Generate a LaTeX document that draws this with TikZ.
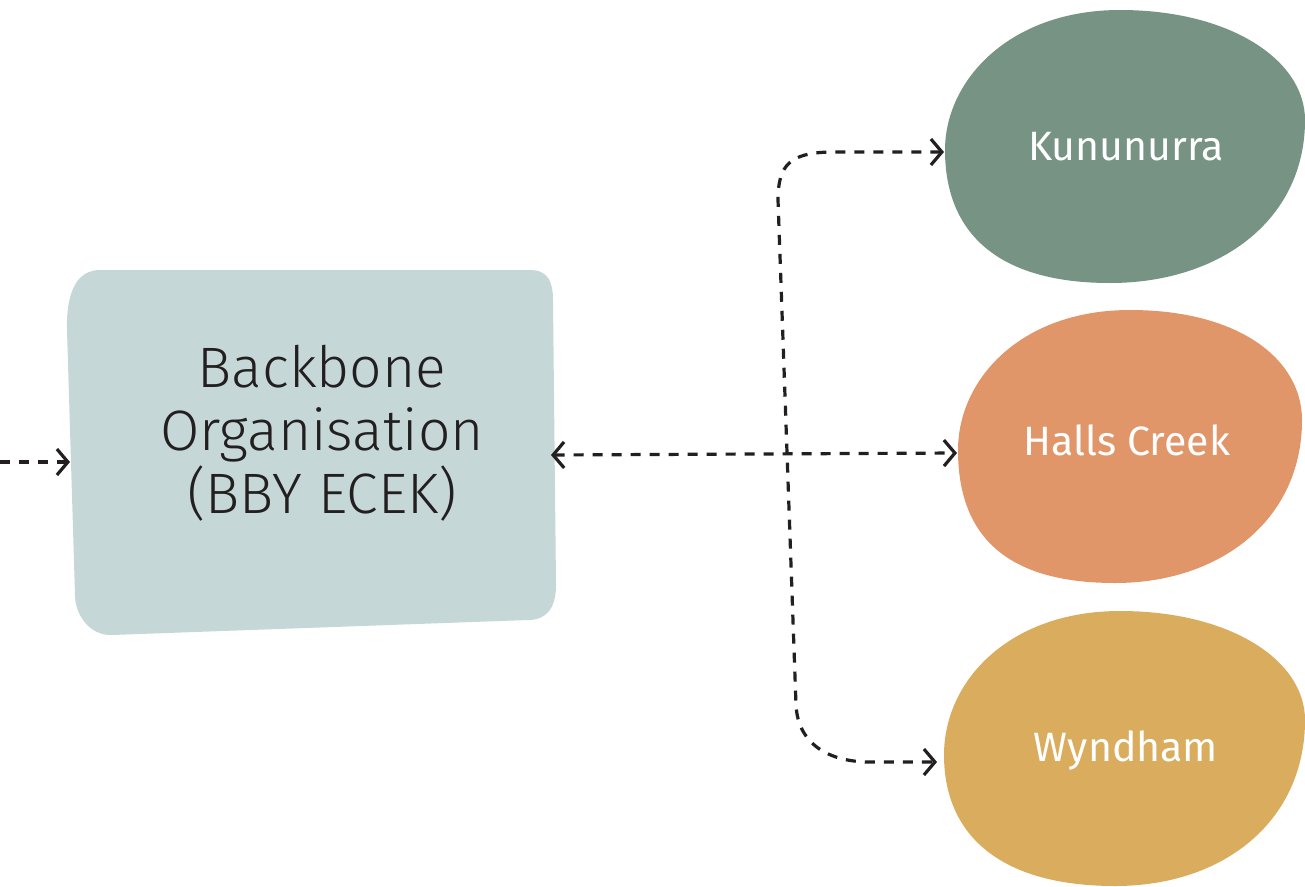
\documentclass[tikz,border=0pt]{standalone}
\usepackage{fontspec}
\setmainfont{Fira Sans Light}
\newfontfamily\blobfont{Fira Sans}
\usetikzlibrary{arrows.meta}
\definecolor{boxc}{HTML}{C5D8D7}
\definecolor{kunc}{HTML}{769384}
\definecolor{hallc}{HTML}{E09668}
\definecolor{wync}{HTML}{DAAD5E}
\definecolor{inkc}{HTML}{231F20}
\tikzset{
  barb/.tip={Straight Barb[length=11pt,width=26pt,line width=3.2pt]},
  link/.style={draw=inkc, line width=3.2pt, dash pattern=on 10pt off 9pt, line cap=butt},
  tip/.style={-barb},
  bitip/.style={barb-barb},
  boxtext/.style={text=inkc, font=\fontsize{57}{63}\selectfont, align=center},
  blobtext/.style={text=white, font=\blobfont\fontsize{41}{46}\selectfont}
}
\begin{document}
\begin{tikzpicture}[x=1pt,y=-1pt]
\useasboundingbox (0,0) rectangle (1305,886);
% backbone box
\fill[boxc] (100,270) -- (530,270) .. controls (548,270) and (553,282) .. (553,300)
  -- (556,585) .. controls (556,610) and (545,620) .. (528,620)
  -- (112,635) .. controls (90,636) and (75,615) .. (75,595)
  -- (67,330) .. controls (66,290) and (78,270) .. (100,270) -- cycle;
% blobs
\fill[kunc] (945,150) .. controls (945,80) and (1010,10) .. (1120,10)
  .. controls (1230,10) and (1305,60) .. (1305,120)
  .. controls (1305,220) and (1220,283) .. (1110,283)
  .. controls (1000,283) and (945,235) .. (945,150) -- cycle;
\fill[hallc] (958,450) .. controls (958,380) and (1020,310) .. (1130,310)
  .. controls (1240,310) and (1302,360) .. (1302,420)
  .. controls (1302,520) and (1220,583) .. (1115,583)
  .. controls (1005,583) and (958,535) .. (958,450) -- cycle;
\fill[wync] (944,755) .. controls (944,680) and (1010,611) .. (1120,611)
  .. controls (1230,611) and (1305,660) .. (1305,720)
  .. controls (1305,820) and (1225,886) .. (1115,886)
  .. controls (1000,886) and (944,835) .. (944,755) -- cycle;
% texts
\node[boxtext] (bb) at (322,433) {Backbone\\Organisation\\(BBY ECEK)};
\node[blobtext] (kun) at (1126,147) {Kununurra};
\node[blobtext] (hal) at (1127,440) {Halls Creek};
\node[blobtext] (wyn) at (1126,750) {Wyndham};
% anchor coordinates
\coordinate (inL) at (0,462);
\coordinate (bbL) at (70,462);
\coordinate (bbR) at (551,455);
\coordinate (halL) at (957,453);
\coordinate (kunL) at (944,152);
\coordinate (wynL) at (937,762);
% connectors
\draw[link,tip] (inL) -- (bbL);
\draw[link,bitip] (bbR) -- (halL);
\draw[link,bitip] (kunL) -- (830,152) .. controls (790,153) and (778,165) .. (778,200)
  -- (796,705) .. controls (798,745) and (830,762) .. (870,762) -- (wynL);
\end{tikzpicture}
\end{document}
